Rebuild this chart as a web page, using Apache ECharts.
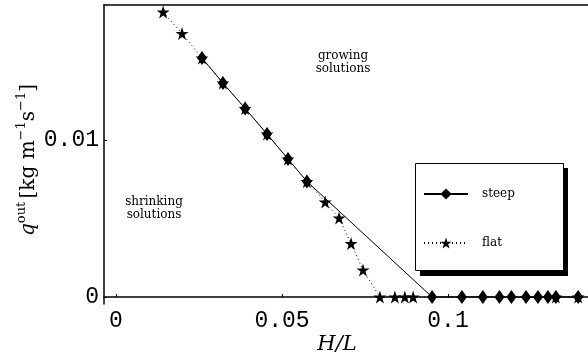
<!DOCTYPE html>
<html><head><meta charset="utf-8">
<script src="https://cdn.jsdelivr.net/npm/echarts@6/dist/echarts.min.js"></script>
<style>html,body{margin:0;padding:0;background:#fff}#c{width:588px;height:360px}</style>
</head><body><div id="c"></div>
<script>
// ---- data ----
const steepX = [0.0259, 0.0322, 0.0389, 0.0455, 0.0518, 0.0575, 0.0952, 0.1042, 0.1105, 0.1155, 0.1191, 0.1235, 0.1271, 0.1301, 0.1325, 0.1392];
const steepY = [0.01522, 0.01363, 0.01201, 0.01038, 0.00879, 0.00736, 0, 0, 0, 0, 0, 0, 0, 0, 0, 0];
const flatX = [0.0142, 0.0199, 0.0259, 0.0322, 0.0389, 0.0455, 0.0518, 0.0575, 0.0630, 0.0672, 0.0708, 0.0744, 0.0795, 0.0840, 0.0870, 0.0895, 0.1325, 0.1392];
const flatY = [0.01815, 0.01678, 0.01522, 0.01363, 0.01201, 0.01038, 0.00879, 0.00736, 0.00605, 0.00503, 0.00341, 0.00172, 0, 0, 0, 0, 0, 0];
const xTickValues = [0, 0.05, 0.1];
const xTickLabels = ['0', '0.05', '0.1'];
const yTickValues = [0, 0.01];
const yTickLabels = ['0', '0.01'];
const seriesNames = ['steep', 'flat'];

const STAR = 'path://M1000,0 L1225,691 L1951,691 L1363,1118 L1588,1809 L1000,1382 L412,1809 L637,1118 L49,691 L775,691 Z';
function fmt(vals, labs) {
  return function (v) {
    const i = vals.findIndex(t => Math.abs(t - v) < 1e-9);
    return i >= 0 ? labs[i] : '';
  };
}
const X_MIN = -0.003614, X_MAX = 0.14217;
const Y_MIN = -0.000446, Y_MAX = 0.018599;
const chart = echarts.init(document.getElementById('c'), null, {renderer: 'canvas'});
const tickFont = {fontFamily: 'Liberation Mono', fontSize: 23, color: '#000'};
chart.setOption({
  animation: false,
  backgroundColor: '#fff',
  grid: {left: 104, right: 0, top: 5, bottom: 56},
  xAxis: [{
    type: 'value', min: X_MIN, max: X_MAX,
    axisLine: {show: true, lineStyle: {color: '#000', width: 1.5}},
    axisTick: {show: true, inside: true, length: 3, customValues: xTickValues, lineStyle: {color: '#000'}},
    axisLabel: Object.assign({show: true, margin: 5, customValues: xTickValues, formatter: fmt(xTickValues, xTickLabels)}, tickFont),
    splitLine: {show: false}
  }, {
    type: 'value', min: X_MIN, max: X_MAX, position: 'top',
    axisLine: {show: true, onZero: false, lineStyle: {color: '#000', width: 1.5}},
    axisTick: {show: false}, axisLabel: {show: false}, splitLine: {show: false}
  }],
  yAxis: {
    type: 'value', min: Y_MIN, max: Y_MAX,
    axisLine: {show: true, onZero: false, lineStyle: {color: '#000', width: 1.5}},
    axisTick: {show: true, inside: true, length: 3, customValues: yTickValues, lineStyle: {color: '#000'}},
    axisLabel: Object.assign({show: true, margin: 5, customValues: yTickValues, formatter: fmt(yTickValues, yTickLabels)}, tickFont),
    splitLine: {show: false}
  },
  legend: {
    left: 415, top: 188, orient: 'vertical', itemWidth: 44, itemHeight: 14, itemGap: 37,
    padding: [0, 0, 0, 8],
    data: seriesNames,
    textStyle: {fontFamily: 'DejaVu Serif', fontSize: 12, color: '#000', padding: [0, 0, 0, 9]}
  },
  graphic: [
    {type: 'rect', shape: {x: 420, y: 168, width: 148, height: 108}, style: {fill: '#000'}, z: 1},
    {type: 'rect', shape: {x: 415.5, y: 163.5, width: 148, height: 107}, style: {fill: '#fff', stroke: '#000', lineWidth: 1}, z: 2},
    {type: 'text', x: 343, y: 56, style: {text: 'growing', fontFamily: 'DejaVu Serif', fontSize: 12, fill: '#000', textAlign: 'center', textVerticalAlign: 'middle'}},
    {type: 'text', x: 343, y: 69, style: {text: 'solutions', fontFamily: 'DejaVu Serif', fontSize: 12, fill: '#000', textAlign: 'center', textVerticalAlign: 'middle'}},
    {type: 'text', x: 154, y: 202, style: {text: 'shrinking', fontFamily: 'DejaVu Serif', fontSize: 12, fill: '#000', textAlign: 'center', textVerticalAlign: 'middle'}},
    {type: 'text', x: 154, y: 215, style: {text: 'solutions', fontFamily: 'DejaVu Serif', fontSize: 12, fill: '#000', textAlign: 'center', textVerticalAlign: 'middle'}},
    {type: 'text', x: 337, y: 345, style: {text: 'H/L', fontFamily: 'DejaVu Serif', fontStyle: 'italic', fontSize: 21, fill: '#000', textAlign: 'center', textVerticalAlign: 'middle'}},
    {type: 'text', x: 27, y: 160, rotation: Math.PI / 2, style: {
      text: '{q|q}{s|out} {m|[kg m}{s|−1}{m|s}{s|−1}{m|]}',
      textAlign: 'center', textVerticalAlign: 'middle', fill: '#000',
      rich: {
        q: {fontFamily: 'DejaVu Serif', fontStyle: 'italic', fontSize: 20, lineHeight: 24, verticalAlign: 'bottom'},
        m: {fontFamily: 'DejaVu Serif', fontSize: 20, lineHeight: 24, verticalAlign: 'bottom'},
        s: {fontFamily: 'DejaVu Serif', fontSize: 13, lineHeight: 14, verticalAlign: 'top'}
      }
    }}
  ],
  series: [{
    name: seriesNames[0], type: 'line', z: 3,
    data: steepX.map((x, i) => [x, steepY[i]]),
    symbol: 'diamond', symbolSize: [10, 14], showSymbol: true,
    itemStyle: {color: '#000'},
    lineStyle: {color: '#000', width: 1, type: 'solid'}
  }, {
    name: seriesNames[1], type: 'line', z: 4,
    data: flatX.map((x, i) => [x, flatY[i]]),
    symbol: STAR, symbolSize: 13, showSymbol: true,
    itemStyle: {color: '#000'},
    lineStyle: {color: '#000', width: 1, type: [1, 3]}
  }]
});
</script></body></html>
